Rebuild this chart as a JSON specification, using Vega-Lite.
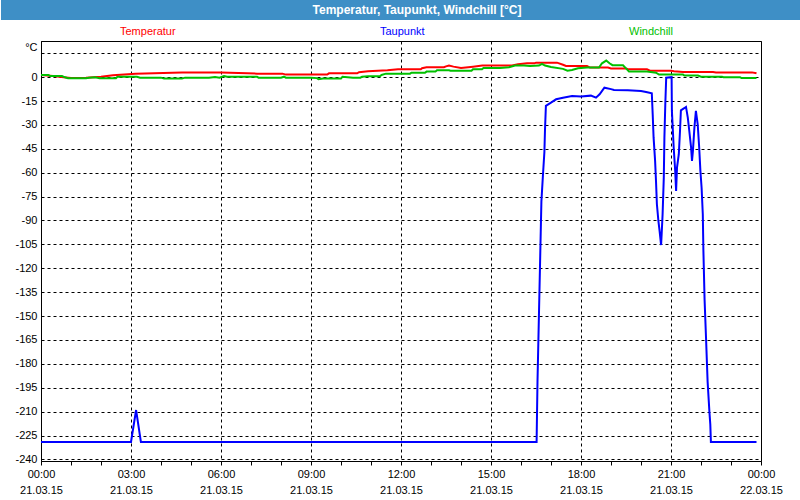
{
  "$schema": "https://vega.github.io/schema/vega-lite/v6.json",
  "padding": 0,
  "spacing": 5,
  "background": "white",
  "config": {"font": "Liberation Sans"},
  "resolve": {"legend": {"color": "independent"}, "scale": {"color": "independent"}},
  "vconcat": [
    {
      "width": 760,
      "height": 20,
      "view": {"fill": "#3e8fc6", "stroke": null},
      "data": {"values": [{"t": "Temperatur, Taupunkt, Windchill [°C]"}]},
      "mark": {"type": "text", "color": "#ffffff", "font": "Liberation Sans", "fontWeight": "bold", "fontSize": 12, "dx": -4, "baseline": "middle"},
      "encoding": {
        "text": {"field": "t"},
        "y": {"field": "t", "type": "nominal", "axis": {"title": null, "labels": false, "ticks": false, "grid": false, "translate": 0, "domainColor": "#3e8fc6", "domainWidth": 80, "minExtent": 40, "maxExtent": 40}}
      }
    },
    {
      "width": 720,
      "height": 420,
      "view": {"stroke": "black", "strokeWidth": 1, "fill": "white"},
      "data": {"values": [
        {"h": 0, "s": "Taupunkt", "v": -229},
        {"h": 3.0, "s": "Taupunkt", "v": -229},
        {"h": 3.17, "s": "Taupunkt", "v": -209},
        {"h": 3.33, "s": "Taupunkt", "v": -229},
        {"h": 16.52, "s": "Taupunkt", "v": -229},
        {"h": 16.55, "s": "Taupunkt", "v": -191},
        {"h": 16.68, "s": "Taupunkt", "v": -78},
        {"h": 16.73, "s": "Taupunkt", "v": -62},
        {"h": 16.78, "s": "Taupunkt", "v": -47},
        {"h": 16.8, "s": "Taupunkt", "v": -33},
        {"h": 16.83, "s": "Taupunkt", "v": -18},
        {"h": 17.0, "s": "Taupunkt", "v": -16},
        {"h": 17.17, "s": "Taupunkt", "v": -13.9},
        {"h": 17.4, "s": "Taupunkt", "v": -12.9},
        {"h": 17.7, "s": "Taupunkt", "v": -11.8},
        {"h": 18.0, "s": "Taupunkt", "v": -12.2},
        {"h": 18.33, "s": "Taupunkt", "v": -11.6},
        {"h": 18.5, "s": "Taupunkt", "v": -12.9},
        {"h": 18.62, "s": "Taupunkt", "v": -10.8},
        {"h": 18.78, "s": "Taupunkt", "v": -6.6},
        {"h": 19.0, "s": "Taupunkt", "v": -7.5},
        {"h": 19.1, "s": "Taupunkt", "v": -8.0},
        {"h": 19.56, "s": "Taupunkt", "v": -8.2},
        {"h": 20.0, "s": "Taupunkt", "v": -8.7},
        {"h": 20.17, "s": "Taupunkt", "v": -9.3},
        {"h": 20.36, "s": "Taupunkt", "v": -10.1},
        {"h": 20.39, "s": "Taupunkt", "v": -23.3},
        {"h": 20.42, "s": "Taupunkt", "v": -38},
        {"h": 20.47, "s": "Taupunkt", "v": -52.6},
        {"h": 20.5, "s": "Taupunkt", "v": -65.2},
        {"h": 20.53, "s": "Taupunkt", "v": -79.8},
        {"h": 20.58, "s": "Taupunkt", "v": -90.3},
        {"h": 20.62, "s": "Taupunkt", "v": -96.6},
        {"h": 20.67, "s": "Taupunkt", "v": -105.4},
        {"h": 20.69, "s": "Taupunkt", "v": -98},
        {"h": 20.72, "s": "Taupunkt", "v": -86.1},
        {"h": 20.76, "s": "Taupunkt", "v": -63.1},
        {"h": 20.78, "s": "Taupunkt", "v": -38},
        {"h": 20.81, "s": "Taupunkt", "v": -17},
        {"h": 20.84, "s": "Taupunkt", "v": -0.3},
        {"h": 21.02, "s": "Taupunkt", "v": 0},
        {"h": 21.03, "s": "Taupunkt", "v": -21.2},
        {"h": 21.09, "s": "Taupunkt", "v": -44.3},
        {"h": 21.14, "s": "Taupunkt", "v": -58.9},
        {"h": 21.17, "s": "Taupunkt", "v": -71.5},
        {"h": 21.2, "s": "Taupunkt", "v": -56.8},
        {"h": 21.26, "s": "Taupunkt", "v": -48.4},
        {"h": 21.3, "s": "Taupunkt", "v": -33.8},
        {"h": 21.33, "s": "Taupunkt", "v": -20.8},
        {"h": 21.44, "s": "Taupunkt", "v": -19.5},
        {"h": 21.5, "s": "Taupunkt", "v": -18.7},
        {"h": 21.56, "s": "Taupunkt", "v": -25.4},
        {"h": 21.61, "s": "Taupunkt", "v": -33.8},
        {"h": 21.67, "s": "Taupunkt", "v": -44.3},
        {"h": 21.7, "s": "Taupunkt", "v": -52.6},
        {"h": 21.73, "s": "Taupunkt", "v": -46.4},
        {"h": 21.78, "s": "Taupunkt", "v": -31.7},
        {"h": 21.83, "s": "Taupunkt", "v": -21.2},
        {"h": 21.89, "s": "Taupunkt", "v": -29.6},
        {"h": 21.94, "s": "Taupunkt", "v": -44.3},
        {"h": 21.98, "s": "Taupunkt", "v": -58.9},
        {"h": 22.02, "s": "Taupunkt", "v": -69.4},
        {"h": 22.06, "s": "Taupunkt", "v": -86.1},
        {"h": 22.08, "s": "Taupunkt", "v": -109},
        {"h": 22.12, "s": "Taupunkt", "v": -140},
        {"h": 22.17, "s": "Taupunkt", "v": -165},
        {"h": 22.22, "s": "Taupunkt", "v": -191},
        {"h": 22.28, "s": "Taupunkt", "v": -210},
        {"h": 22.31, "s": "Taupunkt", "v": -218},
        {"h": 22.33, "s": "Taupunkt", "v": -229},
        {"h": 23.85, "s": "Taupunkt", "v": -229},

        {"h": 0.0, "s": "Temperatur", "v": 1.4},
        {"h": 0.4, "s": "Temperatur", "v": 0.7},
        {"h": 0.75, "s": "Temperatur", "v": 0.0},
        {"h": 1.0, "s": "Temperatur", "v": -0.5},
        {"h": 1.5, "s": "Temperatur", "v": -0.3},
        {"h": 2.0, "s": "Temperatur", "v": 0.3},
        {"h": 2.4, "s": "Temperatur", "v": 1.2},
        {"h": 3.15, "s": "Temperatur", "v": 2.2},
        {"h": 4.7, "s": "Temperatur", "v": 3.0},
        {"h": 6.0, "s": "Temperatur", "v": 3.0},
        {"h": 7.2, "s": "Temperatur", "v": 2.2},
        {"h": 8.05, "s": "Temperatur", "v": 2.2},
        {"h": 8.16, "s": "Temperatur", "v": 1.6},
        {"h": 9.54, "s": "Temperatur", "v": 1.6},
        {"h": 9.6, "s": "Temperatur", "v": 2.4},
        {"h": 10.54, "s": "Temperatur", "v": 2.4},
        {"h": 10.6, "s": "Temperatur", "v": 3.1},
        {"h": 10.9, "s": "Temperatur", "v": 3.7},
        {"h": 11.55, "s": "Temperatur", "v": 4.3},
        {"h": 11.9, "s": "Temperatur", "v": 5.0},
        {"h": 12.66, "s": "Temperatur", "v": 5.0},
        {"h": 12.7, "s": "Temperatur", "v": 5.6},
        {"h": 12.85, "s": "Temperatur", "v": 6.2},
        {"h": 13.43, "s": "Temperatur", "v": 6.2},
        {"h": 13.5, "s": "Temperatur", "v": 6.8},
        {"h": 13.6, "s": "Temperatur", "v": 7.3},
        {"h": 13.75, "s": "Temperatur", "v": 6.6},
        {"h": 14.0, "s": "Temperatur", "v": 5.8},
        {"h": 14.4, "s": "Temperatur", "v": 6.6},
        {"h": 14.71, "s": "Temperatur", "v": 7.3},
        {"h": 15.7, "s": "Temperatur", "v": 7.3},
        {"h": 15.9, "s": "Temperatur", "v": 8.1},
        {"h": 16.2, "s": "Temperatur", "v": 8.7},
        {"h": 16.45, "s": "Temperatur", "v": 8.7},
        {"h": 16.5, "s": "Temperatur", "v": 9.1},
        {"h": 17.2, "s": "Temperatur", "v": 9.1},
        {"h": 17.4, "s": "Temperatur", "v": 7.8},
        {"h": 17.5, "s": "Temperatur", "v": 7.0},
        {"h": 18.2, "s": "Temperatur", "v": 7.0},
        {"h": 18.3, "s": "Temperatur", "v": 6.0},
        {"h": 18.9, "s": "Temperatur", "v": 6.0},
        {"h": 19.0, "s": "Temperatur", "v": 5.4},
        {"h": 19.5, "s": "Temperatur", "v": 5.4},
        {"h": 19.6, "s": "Temperatur", "v": 4.9},
        {"h": 20.2, "s": "Temperatur", "v": 4.9},
        {"h": 20.3, "s": "Temperatur", "v": 4.1},
        {"h": 21.0, "s": "Temperatur", "v": 4.1},
        {"h": 21.1, "s": "Temperatur", "v": 3.7},
        {"h": 21.4, "s": "Temperatur", "v": 3.3},
        {"h": 22.4, "s": "Temperatur", "v": 3.3},
        {"h": 22.5, "s": "Temperatur", "v": 3.0},
        {"h": 23.7, "s": "Temperatur", "v": 3.0},
        {"h": 23.85, "s": "Temperatur", "v": 2.4},

        {"h": 0.0, "s": "Windchill", "v": 1.4},
        {"h": 0.25, "s": "Windchill", "v": 1.4},
        {"h": 0.3, "s": "Windchill", "v": 0.7},
        {"h": 0.7, "s": "Windchill", "v": 0.7},
        {"h": 0.8, "s": "Windchill", "v": -0.1},
        {"h": 0.9, "s": "Windchill", "v": -0.7},
        {"h": 1.5, "s": "Windchill", "v": -0.7},
        {"h": 1.6, "s": "Windchill", "v": -0.4},
        {"h": 1.8, "s": "Windchill", "v": -0.1},
        {"h": 1.95, "s": "Windchill", "v": -0.7},
        {"h": 2.5, "s": "Windchill", "v": -0.7},
        {"h": 2.55, "s": "Windchill", "v": 0.3},
        {"h": 3.2, "s": "Windchill", "v": 0.3},
        {"h": 3.3, "s": "Windchill", "v": -0.3},
        {"h": 4.0, "s": "Windchill", "v": -0.3},
        {"h": 4.1, "s": "Windchill", "v": -0.9},
        {"h": 4.7, "s": "Windchill", "v": -0.9},
        {"h": 4.8, "s": "Windchill", "v": -0.3},
        {"h": 5.6, "s": "Windchill", "v": -0.3},
        {"h": 5.8, "s": "Windchill", "v": 0.1},
        {"h": 5.95, "s": "Windchill", "v": -0.4},
        {"h": 6.1, "s": "Windchill", "v": 0.7},
        {"h": 6.2, "s": "Windchill", "v": 0.3},
        {"h": 7.2, "s": "Windchill", "v": 0.3},
        {"h": 7.25, "s": "Windchill", "v": -0.3},
        {"h": 8.0, "s": "Windchill", "v": -0.3},
        {"h": 8.1, "s": "Windchill", "v": 0.3},
        {"h": 8.16, "s": "Windchill", "v": -0.3},
        {"h": 9.0, "s": "Windchill", "v": -0.3},
        {"h": 9.2, "s": "Windchill", "v": -0.6},
        {"h": 9.25, "s": "Windchill", "v": -1.3},
        {"h": 9.4, "s": "Windchill", "v": -0.9},
        {"h": 10.0, "s": "Windchill", "v": -0.9},
        {"h": 10.05, "s": "Windchill", "v": 0.3},
        {"h": 10.4, "s": "Windchill", "v": -0.3},
        {"h": 10.65, "s": "Windchill", "v": -0.3},
        {"h": 10.7, "s": "Windchill", "v": 0.3},
        {"h": 10.9, "s": "Windchill", "v": 0.6},
        {"h": 11.3, "s": "Windchill", "v": 0.6},
        {"h": 11.35, "s": "Windchill", "v": 1.4},
        {"h": 11.5, "s": "Windchill", "v": 2.2},
        {"h": 12.3, "s": "Windchill", "v": 2.2},
        {"h": 12.35, "s": "Windchill", "v": 2.8},
        {"h": 12.8, "s": "Windchill", "v": 2.8},
        {"h": 12.85, "s": "Windchill", "v": 3.5},
        {"h": 13.15, "s": "Windchill", "v": 3.5},
        {"h": 13.2, "s": "Windchill", "v": 4.3},
        {"h": 13.6, "s": "Windchill", "v": 4.3},
        {"h": 13.65, "s": "Windchill", "v": 4.0},
        {"h": 14.35, "s": "Windchill", "v": 4.0},
        {"h": 14.4, "s": "Windchill", "v": 5.0},
        {"h": 14.7, "s": "Windchill", "v": 5.0},
        {"h": 14.75, "s": "Windchill", "v": 5.8},
        {"h": 15.3, "s": "Windchill", "v": 5.8},
        {"h": 15.6, "s": "Windchill", "v": 6.2},
        {"h": 15.8, "s": "Windchill", "v": 7.3},
        {"h": 16.1, "s": "Windchill", "v": 7.3},
        {"h": 16.3, "s": "Windchill", "v": 7.0},
        {"h": 16.6, "s": "Windchill", "v": 7.3},
        {"h": 16.7, "s": "Windchill", "v": 8.3},
        {"h": 16.8, "s": "Windchill", "v": 7.3},
        {"h": 17.0, "s": "Windchill", "v": 6.4},
        {"h": 17.4, "s": "Windchill", "v": 5.2},
        {"h": 17.55, "s": "Windchill", "v": 4.1},
        {"h": 17.7, "s": "Windchill", "v": 4.5},
        {"h": 17.9, "s": "Windchill", "v": 5.6},
        {"h": 18.2, "s": "Windchill", "v": 6.0},
        {"h": 18.6, "s": "Windchill", "v": 6.0},
        {"h": 18.7, "s": "Windchill", "v": 8.7},
        {"h": 18.84, "s": "Windchill", "v": 10.4},
        {"h": 18.95, "s": "Windchill", "v": 8.7},
        {"h": 19.05, "s": "Windchill", "v": 7.5},
        {"h": 19.4, "s": "Windchill", "v": 7.5},
        {"h": 19.5, "s": "Windchill", "v": 5.5},
        {"h": 19.6, "s": "Windchill", "v": 3.5},
        {"h": 20.2, "s": "Windchill", "v": 3.5},
        {"h": 20.5, "s": "Windchill", "v": 2.8},
        {"h": 20.6, "s": "Windchill", "v": 1.6},
        {"h": 21.4, "s": "Windchill", "v": 1.6},
        {"h": 21.45, "s": "Windchill", "v": 1.0},
        {"h": 21.9, "s": "Windchill", "v": 1.0},
        {"h": 22.0, "s": "Windchill", "v": 0.3},
        {"h": 22.7, "s": "Windchill", "v": 0.3},
        {"h": 22.75, "s": "Windchill", "v": 0.0},
        {"h": 23.3, "s": "Windchill", "v": 0.0},
        {"h": 23.35, "s": "Windchill", "v": -0.6},
        {"h": 23.85, "s": "Windchill", "v": -0.6}
      ]},
      "mark": {"type": "line", "strokeWidth": 2, "interpolate": "linear"},
      "encoding": {
        "x": {
          "field": "h",
          "type": "quantitative",
          "scale": {"domain": [0, 24], "nice": false, "zero": false},
          "axis": {
            "title": null,
            "values": [0,1,2,3,4,5,6,7,8,9,10,11,12,13,14,15,16,17,18,19,20,21,22,23,24],
            "labelExpr": "datum.value % 3 != 0 ? '' : [(datum.value == 24 ? '00' : (datum.value < 10 ? '0' : '') + datum.value) + ':00', datum.value == 24 ? '22.03.15' : '21.03.15']",
            "labelFont": "Liberation Sans",
            "labelFontSize": 11,
            "labelColor": "black",
            "labelLineHeight": 16,
            "labelPadding": 3,
            "labelOverlap": false,
            "labelFlush": false,
            "tickSize": 4,
            "tickColor": "black",
            "domainColor": "black",
            "grid": true,
            "gridColor": "black",
            "gridDash": [3, 3],
            "gridOpacity": {"condition": {"test": "datum.value % 3 == 0", "value": 1}, "value": 0}
          }
        },
        "y": {
          "field": "v",
          "type": "quantitative",
          "scale": {"domain": [-241, 22.7], "nice": false, "zero": false},
          "axis": {
            "values": [15,0,-15,-30,-45,-60,-75,-90,-105,-120,-135,-150,-165,-180,-195,-210,-225,-240],
            "labelExpr": "datum.value > 0 ? '' : '' + datum.value",
            "ticks": false,
            "labelPadding": 4,
            "labelFont": "Liberation Sans",
            "labelFontSize": 11,
            "labelColor": "black",
            "labelOverlap": false,
            "domainColor": "black",
            "grid": true,
            "gridColor": "black",
            "gridDash": [3, 3],
            "gridOpacity": 1,
            "title": "°C",
            "titleAngle": 0,
            "titleAlign": "right",
            "titleBaseline": "middle",
            "titleX": -4,
            "titleY": 6,
            "titleFont": "Liberation Sans",
            "titleFontSize": 11,
            "titleFontWeight": "normal",
            "titleColor": "black",
            "minExtent": 40,
            "maxExtent": 40
          }
        },
        "color": {
          "field": "s",
          "type": "nominal",
          "scale": {"domain": ["Temperatur", "Taupunkt", "Windchill"], "range": ["#ff0000", "#0000ff", "#00c000"]},
          "legend": {
            "title": null,
            "orient": "none",
            "legendX": 68,
            "legendY": -15,
            "direction": "horizontal",
            "padding": 0,
            "symbolSize": 0,
            "symbolStrokeWidth": 0,
            "symbolOpacity": 0,
            "labelOffset": 0,
            "columnPadding": 193,
            "labelFont": "Liberation Sans",
            "labelFontSize": 11,
            "labelColor": {"expr": "datum.label == 'Temperatur' ? '#ff0000' : datum.label == 'Taupunkt' ? '#0000ff' : '#00c000'"}
          }
        }
      }
    }
  ]
}
